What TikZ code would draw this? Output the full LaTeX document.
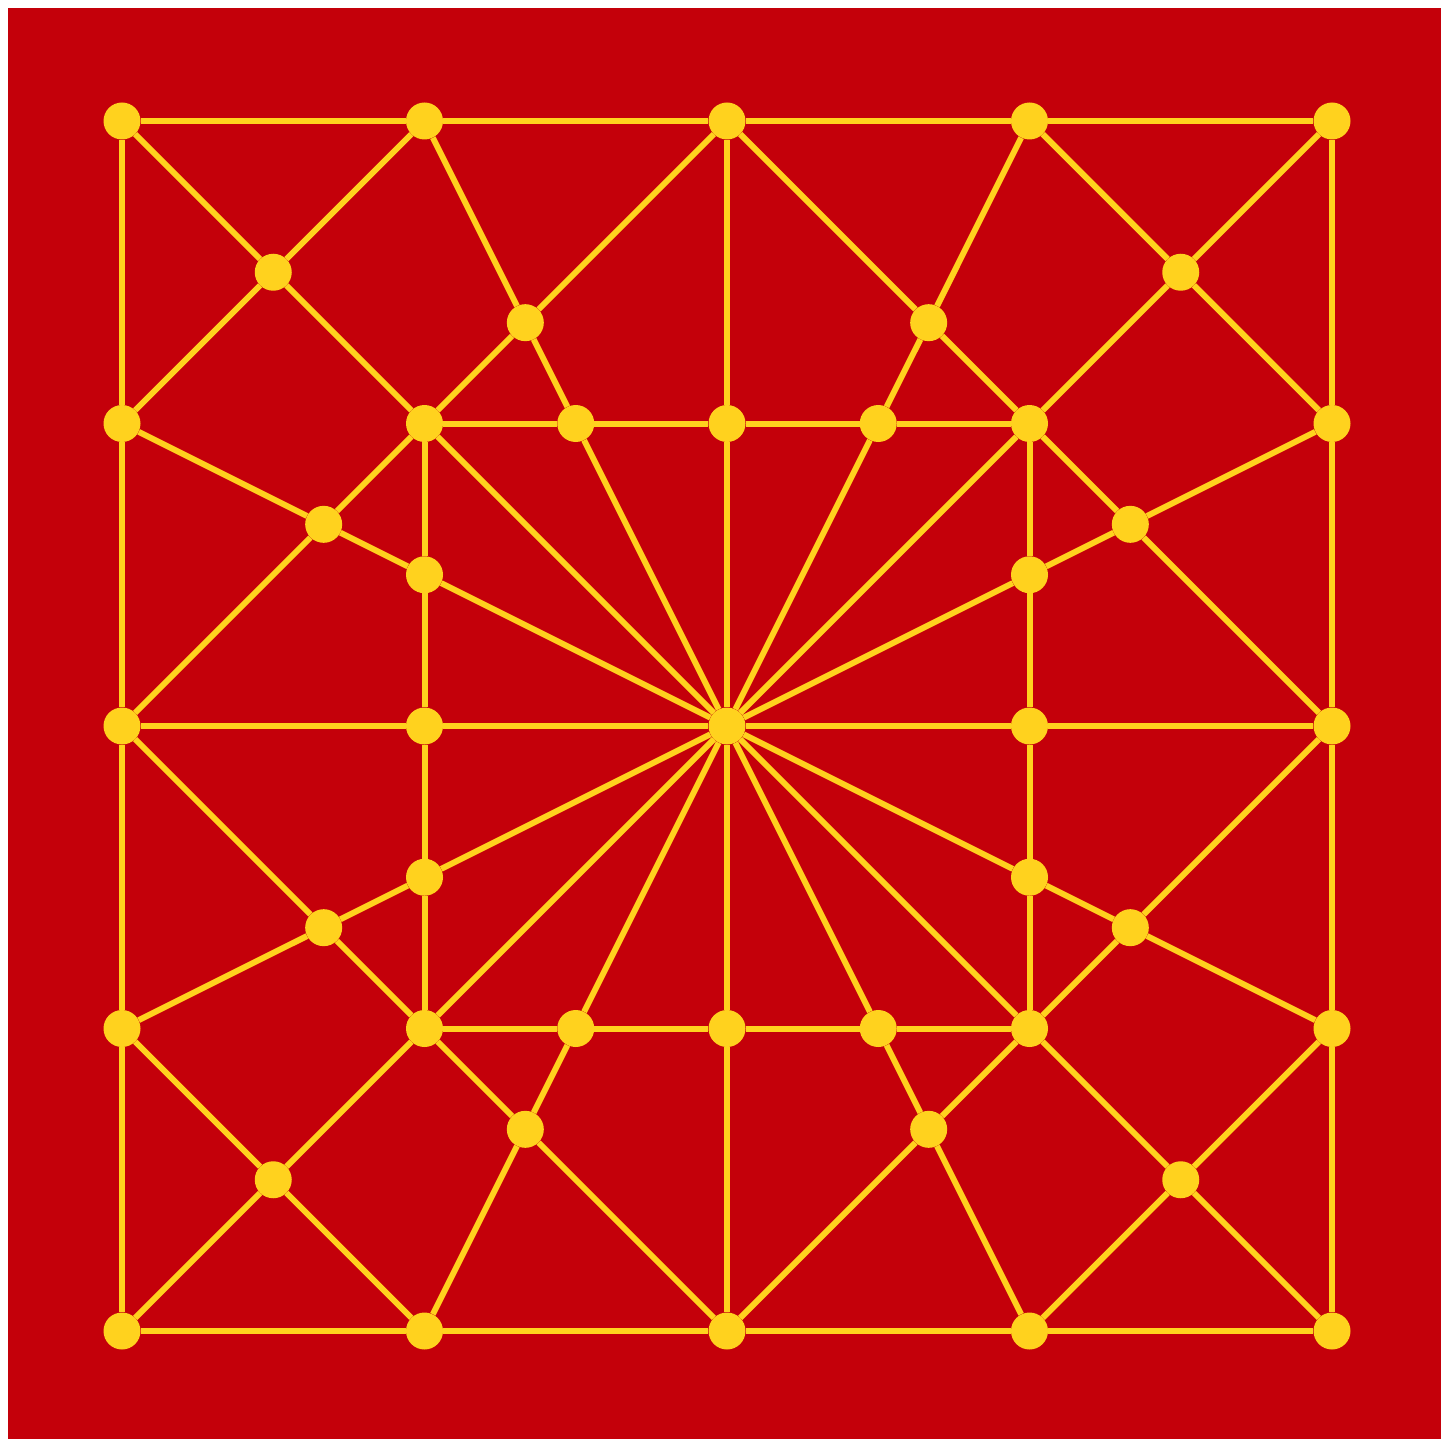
\documentclass[tikz,border=0pt]{standalone}
\definecolor{bgred}{RGB}{196,0,10}
\definecolor{gold}{RGB}{255,210,30}
\begin{document}
\begin{tikzpicture}[x=1pt,y=-1pt,
  dot/.style={circle,fill=gold,draw=none,minimum size=37pt,inner sep=0pt},
  link/.style={draw=gold,line width=6pt}]
\useasboundingbox (0,0) rectangle (1441,1439);
\fill[bgred] (8,8) rectangle (1441,1439);
\begin{scope}[shift={(727,726)},x=302.5pt,y=302.5pt]
% outer square
\node[dot] (TL) at (-2,2) {};
\node[dot] (T1) at (-1,2) {};
\node[dot] (T2) at (0,2) {};
\node[dot] (T3) at (1,2) {};
\node[dot] (TR) at (2,2) {};
\node[dot] (L1) at (-2,1) {};
\node[dot] (L2) at (-2,0) {};
\node[dot] (L3) at (-2,-1) {};
\node[dot] (R1) at (2,1) {};
\node[dot] (R2) at (2,0) {};
\node[dot] (R3) at (2,-1) {};
\node[dot] (BL) at (-2,-2) {};
\node[dot] (B1) at (-1,-2) {};
\node[dot] (B2) at (0,-2) {};
\node[dot] (B3) at (1,-2) {};
\node[dot] (BR) at (2,-2) {};
% inner square
\node[dot] (iTL) at (-1,1) {};
\node[dot] (it1) at (-0.5,1) {};
\node[dot] (it2) at (0,1) {};
\node[dot] (it3) at (0.5,1) {};
\node[dot] (iTR) at (1,1) {};
\node[dot] (il1) at (-1,0.5) {};
\node[dot] (il2) at (-1,0) {};
\node[dot] (il3) at (-1,-0.5) {};
\node[dot] (ir1) at (1,0.5) {};
\node[dot] (ir2) at (1,0) {};
\node[dot] (ir3) at (1,-0.5) {};
\node[dot] (iBL) at (-1,-1) {};
\node[dot] (ib1) at (-0.5,-1) {};
\node[dot] (ib2) at (0,-1) {};
\node[dot] (ib3) at (0.5,-1) {};
\node[dot] (iBR) at (1,-1) {};
% centre
\node[dot] (C) at (0,0) {};
% corner crossings
\node[dot] (mTL) at (-1.5,1.5) {};
\node[dot] (mTR) at (1.5,1.5) {};
\node[dot] (mBL) at (-1.5,-1.5) {};
\node[dot] (mBR) at (1.5,-1.5) {};
% side crossings
\node[dot] (pT1) at (-0.6667,1.3333) {};
\node[dot] (pT2) at (0.6667,1.3333) {};
\node[dot] (pB1) at (-0.6667,-1.3333) {};
\node[dot] (pB2) at (0.6667,-1.3333) {};
\node[dot] (pL1) at (-1.3333,0.6667) {};
\node[dot] (pL2) at (-1.3333,-0.6667) {};
\node[dot] (pR1) at (1.3333,0.6667) {};
\node[dot] (pR2) at (1.3333,-0.6667) {};
% outer perimeter
\path[link] (TL) -- (T1) -- (T2) -- (T3) -- (TR);
\path[link] (BL) -- (B1) -- (B2) -- (B3) -- (BR);
\path[link] (TL) -- (L1) -- (L2) -- (L3) -- (BL);
\path[link] (TR) -- (R1) -- (R2) -- (R3) -- (BR);
% inner perimeter
\path[link] (iTL) -- (it1) -- (it2) -- (it3) -- (iTR);
\path[link] (iBL) -- (ib1) -- (ib2) -- (ib3) -- (iBR);
\path[link] (iTL) -- (il1) -- (il2) -- (il3) -- (iBL);
\path[link] (iTR) -- (ir1) -- (ir2) -- (ir3) -- (iBR);
% spokes
\foreach \n in {iTL,it1,it2,it3,iTR,il1,il2,il3,ir1,ir2,ir3,iBL,ib1,ib2,ib3,iBR}
  \path[link] (C) -- (\n);
% corners
\path[link] (TL) -- (mTL) -- (iTL);
\path[link] (T1) -- (mTL) -- (L1);
\path[link] (TR) -- (mTR) -- (iTR);
\path[link] (T3) -- (mTR) -- (R1);
\path[link] (BL) -- (mBL) -- (iBL);
\path[link] (B1) -- (mBL) -- (L3);
\path[link] (BR) -- (mBR) -- (iBR);
\path[link] (B3) -- (mBR) -- (R3);
% top and bottom middles
\path[link] (T1) -- (pT1) -- (it1);
\path[link] (T2) -- (pT1) -- (iTL);
\path[link] (T2) -- (pT2) -- (iTR);
\path[link] (T3) -- (pT2) -- (it3);
\path[link] (T2) -- (it2);
\path[link] (B1) -- (pB1) -- (ib1);
\path[link] (B2) -- (pB1) -- (iBL);
\path[link] (B2) -- (pB2) -- (iBR);
\path[link] (B3) -- (pB2) -- (ib3);
\path[link] (B2) -- (ib2);
% left and right middles
\path[link] (L1) -- (pL1) -- (il1);
\path[link] (L2) -- (pL1) -- (iTL);
\path[link] (L2) -- (il2);
\path[link] (L2) -- (pL2) -- (iBL);
\path[link] (L3) -- (pL2) -- (il3);
\path[link] (R1) -- (pR1) -- (ir1);
\path[link] (R2) -- (pR1) -- (iTR);
\path[link] (R2) -- (ir2);
\path[link] (R2) -- (pR2) -- (iBR);
\path[link] (R3) -- (pR2) -- (ir3);
\end{scope}
\end{tikzpicture}
\end{document}
